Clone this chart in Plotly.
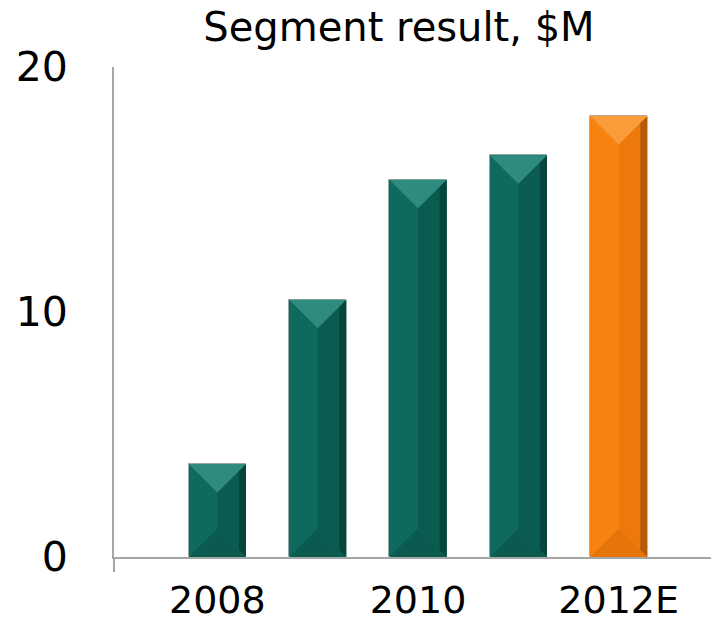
import plotly.graph_objects as go

# Segment result by year, $M
years = ["2008", "2009", "2010", "2011", "2012E"]
values = [3.8, 10.5, 15.4, 16.4, 18.0]
shown_ticks = ["2008", "2010", "2012E"]
y_ticks = [0, 10, 20]

# Palette: actuals in teal, the estimate in orange
teal = {"base": "#0f6a5e", "right": "#0a5c51", "edge": "#05453c",
        "top": "#2f8b7e", "bottom": "#0b5a4f"}
orange = {"base": "#f7820f", "right": "#ec790a", "edge": "#b85a05",
          "top": "#fa9c3a", "bottom": "#e57508"}

W, H = 711, 624
M_L, M_R, M_T, M_B = 114, 0, 67, 67
X_RANGE = [-1.03, 4.92]
Y_RANGE = [0, 20]
BAR_W = 0.57

x_pos = list(range(len(years)))
palettes = [orange if y.endswith("E") else teal for y in years]

fig = go.Figure()

fig.add_trace(go.Bar(
    x=x_pos, y=values, width=BAR_W,
    marker=dict(color=[p["base"] for p in palettes],
                line=dict(color="rgba(160,160,160,0.7)", width=1)),
    hoverinfo="skip", showlegend=False,
))

# Bevelled faces: 45-degree bevel in screen space
px_per_x = (W - M_L - M_R) / (X_RANGE[1] - X_RANGE[0])
px_per_y = (H - M_T - M_B) / (Y_RANGE[1] - Y_RANGE[0])
h = BAR_W / 2
d = h * px_per_x / px_per_y
edge = 7 / px_per_x


def face(xs, ys, color):
    fig.add_trace(go.Scatter(
        x=xs + [xs[0]], y=ys + [ys[0]], mode="lines", fill="toself",
        fillcolor=color, line=dict(width=0, color=color),
        hoverinfo="skip", showlegend=False,
    ))


for c, v, p in zip(x_pos, values, palettes):
    # right half
    face([c, c + h, c + h, c], [d, 0, v, v - d], p["right"])
    # darker right edge
    face([c + h - edge, c + h, c + h, c + h - edge],
         [edge * px_per_x / px_per_y, 0, v, v - edge * px_per_x / px_per_y],
         p["edge"])
    # bottom triangle
    face([c - h, c + h, c], [0, 0, d], p["bottom"])
    # top triangle
    face([c - h, c + h, c], [v, v, v - d], p["top"])

axis_color = "#a6a6a6"
fig.add_shape(type="line", xref="paper", yref="paper",
              x0=0, x1=0, y0=0, y1=-15 / (H - M_T - M_B),
              line=dict(color=axis_color, width=2))

fig.update_layout(
    width=W, height=H,
    margin=dict(l=M_L, r=M_R, t=M_T, b=M_B, autoexpand=False),
    paper_bgcolor="white", plot_bgcolor="white",
    font=dict(family="DejaVu Sans", color="black"),
    title=dict(text="Segment result, $M", x=(399 - M_L) / (W - M_L - M_R),
               xref="paper", xanchor="center", y=1 - 27 / H, yanchor="middle",
               font=dict(size=40, color="black")),
    bargap=0,
)
fig.update_xaxes(
    range=X_RANGE, tickmode="array",
    tickvals=[years.index(t) for t in shown_ticks], ticktext=shown_ticks,
    showline=True, linecolor=axis_color, linewidth=2,
    showgrid=False, zeroline=False, ticks="", automargin=False,
    tickfont=dict(size=38), ticklabelstandoff=8,
)
fig.update_yaxes(
    range=Y_RANGE, tickmode="array", tickvals=y_ticks,
    showline=True, linecolor=axis_color, linewidth=2,
    showgrid=False, zeroline=False, ticks="", automargin=False,
    tickfont=dict(size=41), ticklabelstandoff=36,
)

fig.write_html("out.html")
